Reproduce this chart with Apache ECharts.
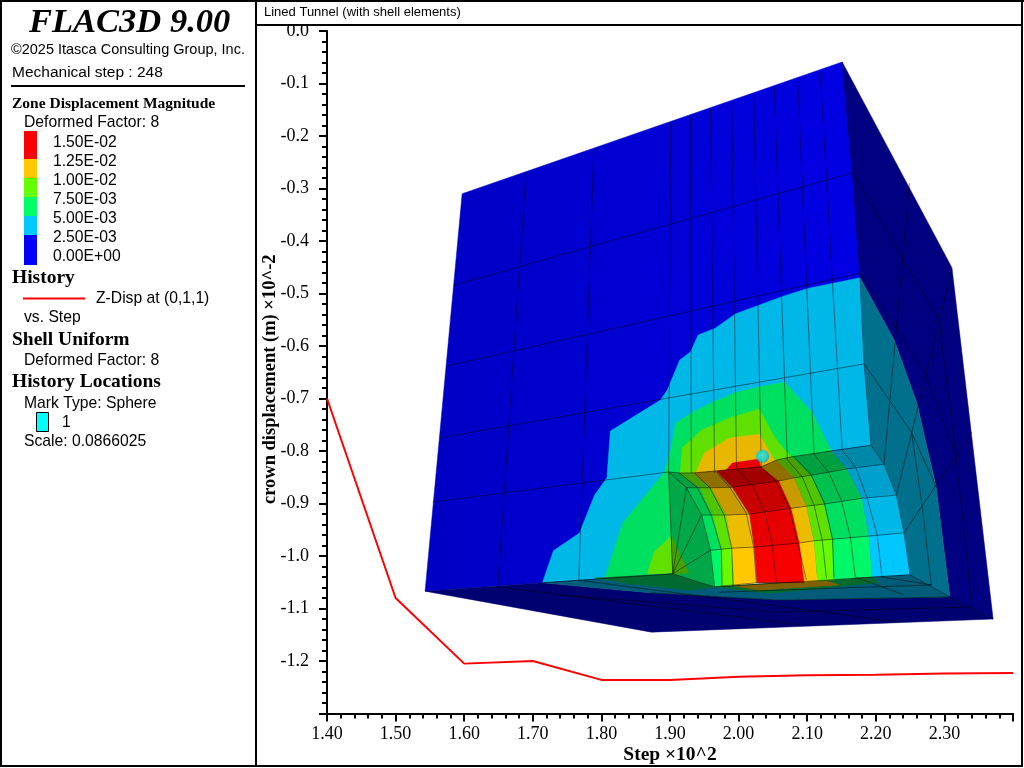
<!DOCTYPE html>
<html>
<head>
<meta charset="utf-8">
<title>Lined Tunnel</title>
<script src="https://cdn.jsdelivr.net/npm/echarts@6/dist/echarts.min.js"></script>
<style>
    html, body { margin: 0; padding: 0; background: #fff; }
    #chart { width: 1024px; height: 768px; }
</style>
</head>
<body>
<div id="chart"></div>
<script>
// history curve
const stepValues = [1.4, 1.5, 1.6, 1.7, 1.8, 1.9, 2.0, 2.1, 2.2, 2.3, 2.4]
const crownDisp = [-0.70, -1.08, -1.205, -1.20, -1.236, -1.236, -1.230, -1.227, -1.226, -1.224, -1.223]

// contour legend
const legendLabels = ['1.50E-02', '1.25E-02', '1.00E-02', '7.50E-03', '5.00E-03', '2.50E-03', '0.00E+00']

const frontFace = [[1.597, -0.310], [2.151, -0.059], [2.166, -0.270], [2.177, -0.470], [2.183, -0.634], [2.193, -0.789], [2.250, -1.036], [1.714, -1.051], [1.543, -1.067]]
const rightFace = [[2.151, -0.059], [2.311, -0.451], [2.371, -1.120], [2.308, -1.078], [2.288, -0.869], [2.260, -0.709], [2.227, -0.589], [2.177, -0.470]]
const tealFace = [[2.177, -0.470], [2.227, -0.589], [2.260, -0.709], [2.288, -0.869], [2.308, -1.078], [2.250, -1.036], [2.241, -0.956], [2.230, -0.884], [2.212, -0.825], [2.193, -0.789], [2.183, -0.634]]
const bottomFace = [[1.543, -1.067], [1.873, -1.145], [2.371, -1.120], [2.308, -1.078], [2.059, -1.084], [1.870, -1.070], [1.714, -1.051]]
const floorFace = [[1.714, -1.051], [1.904, -1.034], [1.965, -1.059], [2.250, -1.036], [2.308, -1.078], [2.059, -1.084], [1.870, -1.070]]
const floorGreenL = [[1.790, -1.042], [1.904, -1.034], [1.965, -1.059], [1.928, -1.065], [1.841, -1.053]]
const floorGreenR = [[1.965, -1.059], [2.195, -1.040], [2.205, -1.051], [2.045, -1.071]]
const floorBrown = [[1.994, -1.057], [2.125, -1.046], [2.147, -1.055], [2.030, -1.065]]

// contour bands on the front face
const cyanRegion = [[2.177, -0.470], [2.102, -0.490], [2.065, -0.505], [1.995, -0.539], [1.966, -0.566], [1.941, -0.579], [1.930, -0.611], [1.914, -0.627], [1.896, -0.684], [1.886, -0.703], [1.813, -0.762], [1.808, -0.851], [1.790, -0.884], [1.768, -0.956], [1.730, -0.990], [1.714, -1.051], [1.904, -1.034], [1.898, -0.840], [2.193, -0.789], [2.183, -0.634]]
const greenRegion = [[1.805, -1.042], [1.831, -0.937], [1.892, -0.840], [1.901, -0.798], [1.908, -0.747], [1.933, -0.726], [1.962, -0.707], [1.997, -0.688], [2.030, -0.678], [2.067, -0.669], [2.107, -0.726], [2.135, -0.800], [2.135, -0.838], [1.898, -0.855], [1.904, -1.034]]
const limeRegion = [[1.914, -0.855], [1.918, -0.794], [1.946, -0.760], [1.987, -0.737], [2.030, -0.720], [2.049, -0.766], [2.059, -0.785], [2.078, -0.813], [2.078, -0.855]]
const orangeRegion = [[1.933, -0.855], [1.950, -0.804], [1.987, -0.775], [2.030, -0.768], [2.052, -0.817], [2.052, -0.855]]
const redRegion = [[1.968, -0.855], [1.991, -0.823], [2.030, -0.815], [2.035, -0.855]]
const limeLow = [[1.867, -1.034], [1.877, -0.992], [1.902, -0.962], [1.904, -1.034]]
const arcFace = [[1.898, -0.840], [1.924, -0.870], [1.946, -0.922], [1.959, -0.989], [1.965, -1.059], [1.904, -1.034]]
const arcLime = [[1.902, -0.962], [1.927, -1.032], [1.904, -1.034]]

// lining rows, crown to floor, one point per band edge
const liningRows = [
    [[1.898, -0.840], [1.914, -0.842], [1.933, -0.842], [1.968, -0.838], [2.033, -0.830], [2.056, -0.817], [2.078, -0.811], [2.135, -0.800], [2.193, -0.789]],
    [[1.924, -0.870], [1.943, -0.870], [1.960, -0.870], [1.991, -0.869], [2.059, -0.857], [2.081, -0.851], [2.106, -0.846], [2.158, -0.834], [2.212, -0.825]],
    [[1.946, -0.922], [1.962, -0.922], [1.982, -0.922], [2.016, -0.920], [2.077, -0.909], [2.099, -0.905], [2.125, -0.901], [2.180, -0.890], [2.230, -0.884]],
    [[1.959, -0.989], [1.975, -0.987], [1.990, -0.985], [2.023, -0.983], [2.089, -0.975], [2.110, -0.971], [2.137, -0.968], [2.190, -0.962], [2.241, -0.956]],
    [[1.965, -1.059], [1.976, -1.057], [1.994, -1.055], [2.027, -1.051], [2.096, -1.050], [2.115, -1.048], [2.139, -1.046], [2.195, -1.040], [2.250, -1.036]]
]

// mesh lines
const liningColumns = [
    [[1.898, -0.840], [1.924, -0.870], [1.946, -0.922], [1.959, -0.989], [1.965, -1.059]],
    [[1.914, -0.842], [1.940, -0.870], [1.960, -0.922], [1.975, -0.989], [1.976, -1.059]],
    [[1.936, -0.842], [1.958, -0.870], [1.979, -0.922], [1.990, -0.985], [1.992, -1.059]],
    [[1.968, -0.840], [1.987, -0.869], [2.011, -0.918], [2.022, -0.983], [2.026, -1.051]],
    [[1.997, -0.834], [2.020, -0.865], [2.038, -0.916], [2.049, -0.979], [2.055, -1.050]],
    [[2.033, -0.830], [2.055, -0.859], [2.074, -0.909], [2.086, -0.975], [2.099, -1.046]],
    [[2.070, -0.815], [2.093, -0.850], [2.110, -0.903], [2.122, -0.970], [2.128, -1.042]],
    [[2.081, -0.811], [2.106, -0.846], [2.125, -0.899], [2.137, -0.968], [2.139, -1.042]],
    [[2.110, -0.806], [2.132, -0.842], [2.150, -0.895], [2.163, -0.964], [2.170, -1.040]],
    [[2.151, -0.798], [2.171, -0.832], [2.187, -0.888], [2.202, -0.960], [2.209, -1.040]],
    [[2.193, -0.789], [2.212, -0.825], [2.230, -0.884], [2.241, -0.956], [2.250, -1.036]]
]
const frontLines = [
    [[1.585, -0.484], [2.166, -0.270]],
    [[1.575, -0.638], [2.177, -0.461]],
    [[1.564, -0.775], [2.183, -0.634]],
    [[1.554, -0.897], [1.898, -0.840]],
    [[1.690, -0.270], [1.649, -1.059]],
    [[1.789, -0.225], [1.767, -1.046]],
    [[1.901, -0.173], [1.898, -0.840]],
    [[1.930, -0.162], [1.931, -0.842]],
    [[1.959, -0.147], [1.965, -0.842]],
    [[1.990, -0.133], [1.997, -0.834]],
    [[2.022, -0.118], [2.033, -0.830]],
    [[2.052, -0.107], [2.071, -0.815]],
    [[2.086, -0.090], [2.110, -0.807]],
    [[2.119, -0.078], [2.151, -0.796]],
    [[2.151, -0.059], [2.166, -0.270], [2.177, -0.470], [2.183, -0.634], [2.193, -0.789]]
]
const sideLines = [
    [[2.249, -0.290], [2.212, -0.825]],
    [[2.311, -0.453], [2.230, -0.884]],
    [[2.177, -0.461], [2.273, -0.655], [2.317, -0.811]],
    [[2.166, -0.270], [2.292, -0.550]],
    [[2.340, -0.764], [2.241, -0.956]],
    [[2.183, -0.634], [2.252, -0.764], [2.288, -0.869]],
    [[2.252, -0.764], [2.268, -0.909], [2.281, -1.055]],
    [[2.292, -0.550], [2.317, -0.811], [2.340, -1.097]],
    [[2.250, -1.036], [2.308, -1.078]],
    [[2.308, -1.078], [2.371, -1.120]]
]
const floorLines = [
    [[1.714, -1.051], [1.904, -1.034], [1.965, -1.059], [2.250, -1.036]],
    [[1.870, -1.070], [2.059, -1.084], [2.308, -1.078]],
    [[1.972, -1.069], [2.281, -1.055]],
    [[2.209, -1.040], [2.281, -1.055]],
    [[2.170, -1.040], [2.241, -1.074]],
    [[2.340, -1.097], [2.059, -1.107], [1.739, -1.074]],
    [[1.649, -1.059], [2.089, -1.131]],
    [[1.767, -1.046], [2.234, -1.126]]
]
const arcFanLines = [
    [[1.904, -1.034], [1.898, -0.840]],
    [[1.904, -1.034], [1.924, -0.870]],
    [[1.904, -1.034], [1.946, -0.922]],
    [[1.904, -1.034], [1.959, -0.989]]
]

// history location mark
const markPoint = [[2.035, -0.810]]

const SANS = '"Liberation Sans", Arial, sans-serif'
const SERIF = '"Liberation Serif", "Times New Roman", serif'
const legendColors = ['#ff0000', '#ffc800', '#64ff00', '#00ff64', '#00c8ff', '#0000ff']

// 8 bands across the lining, shaded darker towards the crown
const bandShades = [
    ['#00a040', '#48a000', '#8f6f00', '#a00000', '#8f6f00', '#48a000', '#00a040', '#0088a8'],
    ['#00c050', '#50c400', '#c89c00', '#c80000', '#c89c00', '#50c400', '#00c050', '#00a0cc'],
    ['#00e060', '#60e000', '#ecbc00', '#e80000', '#ecbc00', '#60e000', '#00e060', '#00b8e8'],
    ['#00f868', '#68f800', '#ffc800', '#f80000', '#ffc800', '#68f800', '#00f868', '#00c8ff']
]

const frontFill = new echarts.graphic.LinearGradient(0, 0, 1, 0, [
    { offset: 0, color: '#0000c4' },
    { offset: 1, color: '#0000e8' }
])

const polygons = [
    { pts: rightFace, fill: '#000080' },
    { pts: frontFace, fill: frontFill },
    { pts: tealFace, fill: '#00708c' },
    { pts: cyanRegion, fill: '#00b8e8' },
    { pts: greenRegion, fill: '#00e060' },
    { pts: limeRegion, fill: '#60e000' },
    { pts: orangeRegion, fill: '#e8b800' },
    { pts: redRegion, fill: '#e80000' },
    { pts: limeLow, fill: '#60e000' },
    { pts: bottomFace, fill: '#000070' },
    { pts: floorFace, fill: '#005c78' },
    { pts: floorGreenL, fill: '#006a30' },
    { pts: floorGreenR, fill: '#006a30' },
    { pts: floorBrown, fill: '#806000' },
    { pts: arcFace, fill: '#00a848' },
    { pts: arcLime, fill: '#48a000' }
]
bandShades.forEach((shades, r) => {
    shades.forEach((fill, b) => {
        polygons.push({
            pts: [liningRows[r][b], liningRows[r][b + 1], liningRows[r + 1][b + 1], liningRows[r + 1][b]],
            fill: fill
        })
    })
})

const meshLines = [...frontLines, ...sideLines, ...floorLines, ...arcFanLines, ...liningRows, ...liningColumns]

const panelText = (text, x, y, font, extra) => ({
    type: 'text',
    silent: true,
    style: Object.assign({ text, x, y, font, fill: '#000', verticalAlign: 'middle' }, extra)
})
const panelRect = (x, y, width, height, fill, extra) => ({
    type: 'rect',
    silent: true,
    shape: { x, y, width, height },
    style: Object.assign({ fill }, extra)
})

const heading = 'bold 19.5px ' + SERIF
const body = '15.7px ' + SANS

const panel = [
    panelRect(0, 0, 1024, 25, '#fff'),
    panelRect(0, 0, 1024, 2, '#000'),
    panelRect(0, 765, 1023, 2, '#000'),
    panelRect(0, 0, 2, 767, '#000'),
    panelRect(1021, 0, 2, 767, '#000'),
    panelRect(255, 0, 2, 767, '#000'),
    panelRect(256, 24, 766, 2, '#000'),
    panelText('Lined Tunnel (with shell elements)', 264, 12, '13px ' + SANS),
    panelText('FLAC3D 9.00', 29, 23, 'italic bold 34.5px ' + SERIF),
    panelText('©2025 Itasca Consulting Group, Inc.', 11, 50, '14.5px ' + SANS),
    panelText('Mechanical step : 248', 12, 73, '15.5px ' + SANS),
    panelRect(11, 85, 234, 2, '#000'),
    panelText('Zone Displacement Magnitude', 12, 104, 'bold 15.5px ' + SERIF),
    panelText('Deformed Factor: 8', 24, 123, body),
    panelRect(24, 131, 13, 28, legendColors[0]),
    panelRect(24, 159, 13, 19, legendColors[1]),
    panelRect(24, 178, 13, 19, legendColors[2]),
    panelRect(24, 197, 13, 19, legendColors[3]),
    panelRect(24, 216, 13, 19, legendColors[4]),
    panelRect(24, 235, 13, 30, legendColors[5]),
    ...legendLabels.map((label, i) => panelText(label, 53, 142.5 + i * 19, body)),
    panelText('History', 12, 278, heading),
    panelRect(23, 297.5, 62, 2, '#ff0000'),
    panelText('Z-Disp at (0,1,1)', 96, 299, body),
    panelText('vs. Step', 24, 318, body),
    panelText('Shell Uniform', 12, 340, heading),
    panelText('Deformed Factor: 8', 24, 361, body),
    panelText('History Locations', 12, 382, heading),
    panelText('Mark Type: Sphere', 24, 404, body),
    panelRect(36.5, 412.5, 12, 19, '#00ffff', { stroke: '#000', lineWidth: 1 }),
    panelText('1', 62, 423, body),
    panelText('Scale: 0.0866025', 24, 442, body)
]

const chart = echarts.init(document.getElementById('chart'))

chart.setOption({
    animation: false,
    backgroundColor: '#fff',
    grid: { left: 327, right: 11, top: 31, bottom: 54.5, outerBoundsMode: 'none' },
    xAxis: {
        type: 'value',
        min: 1.4,
        max: 2.4,
        interval: 0.1,
        name: 'Step ×10^2',
        nameLocation: 'middle',
        nameGap: 31,
        nameMoveOverlap: false,
        nameTextStyle: { fontFamily: SERIF, fontSize: 19.5, fontWeight: 'bold', color: '#000' },
        splitLine: { show: false },
        axisLine: { onZero: false, lineStyle: { color: '#000', width: 2 } },
        axisTick: { length: 8, lineStyle: { color: '#000', width: 2 } },
        minorTick: { show: true, splitNumber: 5, length: 5, lineStyle: { color: '#000', width: 2 } },
        axisLabel: {
            margin: 12,
            fontFamily: SERIF,
            fontSize: 18,
            color: '#000',
            formatter: v => (v > 2.35 ? '' : v.toFixed(2))
        }
    },
    yAxis: {
        type: 'value',
        min: -1.3,
        max: 0,
        interval: 0.1,
        name: 'crown displacement (m) ×10^-2',
        nameLocation: 'middle',
        nameGap: 47,
        nameMoveOverlap: false,
        nameTextStyle: { fontFamily: SERIF, fontSize: 18.5, fontWeight: 'bold', color: '#000', padding: [0, 14, 0, 0] },
        splitLine: { show: false },
        axisLine: { onZero: false, lineStyle: { color: '#000', width: 2 } },
        axisTick: { length: 8, lineStyle: { color: '#000', width: 2 } },
        minorTick: { show: true, splitNumber: 5, length: 5, lineStyle: { color: '#000', width: 2 } },
        axisLabel: {
            margin: 18,
            fontFamily: SERIF,
            fontSize: 18,
            color: '#000',
            formatter: v => {
                if (v < -1.25) return ''
                return Math.abs(v) < 1e-6 ? '0.0' : v.toFixed(1)
            }
        }
    },
    series: [
        {
            name: 'Z-Disp at (0,1,1)',
            type: 'line',
            data: stepValues.map((s, i) => [s, crownDisp[i]]),
            showSymbol: false,
            lineStyle: { color: '#ff0000', width: 2 },
            silent: true,
            z: 2
        },
        {
            type: 'custom',
            coordinateSystem: 'cartesian2d',
            silent: true,
            clip: false,
            z: 3,
            data: polygons.map(p => p.pts[0]),
            renderItem: (params, api) => {
                const p = polygons[params.dataIndex]
                return {
                    type: 'polygon',
                    shape: { points: p.pts.map(pt => api.coord(pt)) },
                    style: { fill: p.fill, stroke: p.fill, lineWidth: 0.5 }
                }
            }
        },
        {
            type: 'custom',
            coordinateSystem: 'cartesian2d',
            silent: true,
            clip: false,
            z: 4,
            data: meshLines.map(l => l[0]),
            renderItem: (params, api) => ({
                type: 'polyline',
                shape: { points: meshLines[params.dataIndex].map(pt => api.coord(pt)) },
                style: { fill: null, stroke: 'rgba(0,0,0,0.45)', lineWidth: 1 }
            })
        },
        {
            type: 'scatter',
            data: markPoint,
            symbolSize: 13,
            silent: true,
            z: 5,
            itemStyle: {
                color: new echarts.graphic.RadialGradient(0.45, 0.45, 0.6, [
                    { offset: 0, color: '#20f0ff' },
                    { offset: 0.7, color: '#00d0e8' },
                    { offset: 1, color: '#0098b8' }
                ])
            }
        }
    ],
    graphic: { elements: panel.map(el => Object.assign({ z: 100 }, el)) }
})
</script>
</body>
</html>
